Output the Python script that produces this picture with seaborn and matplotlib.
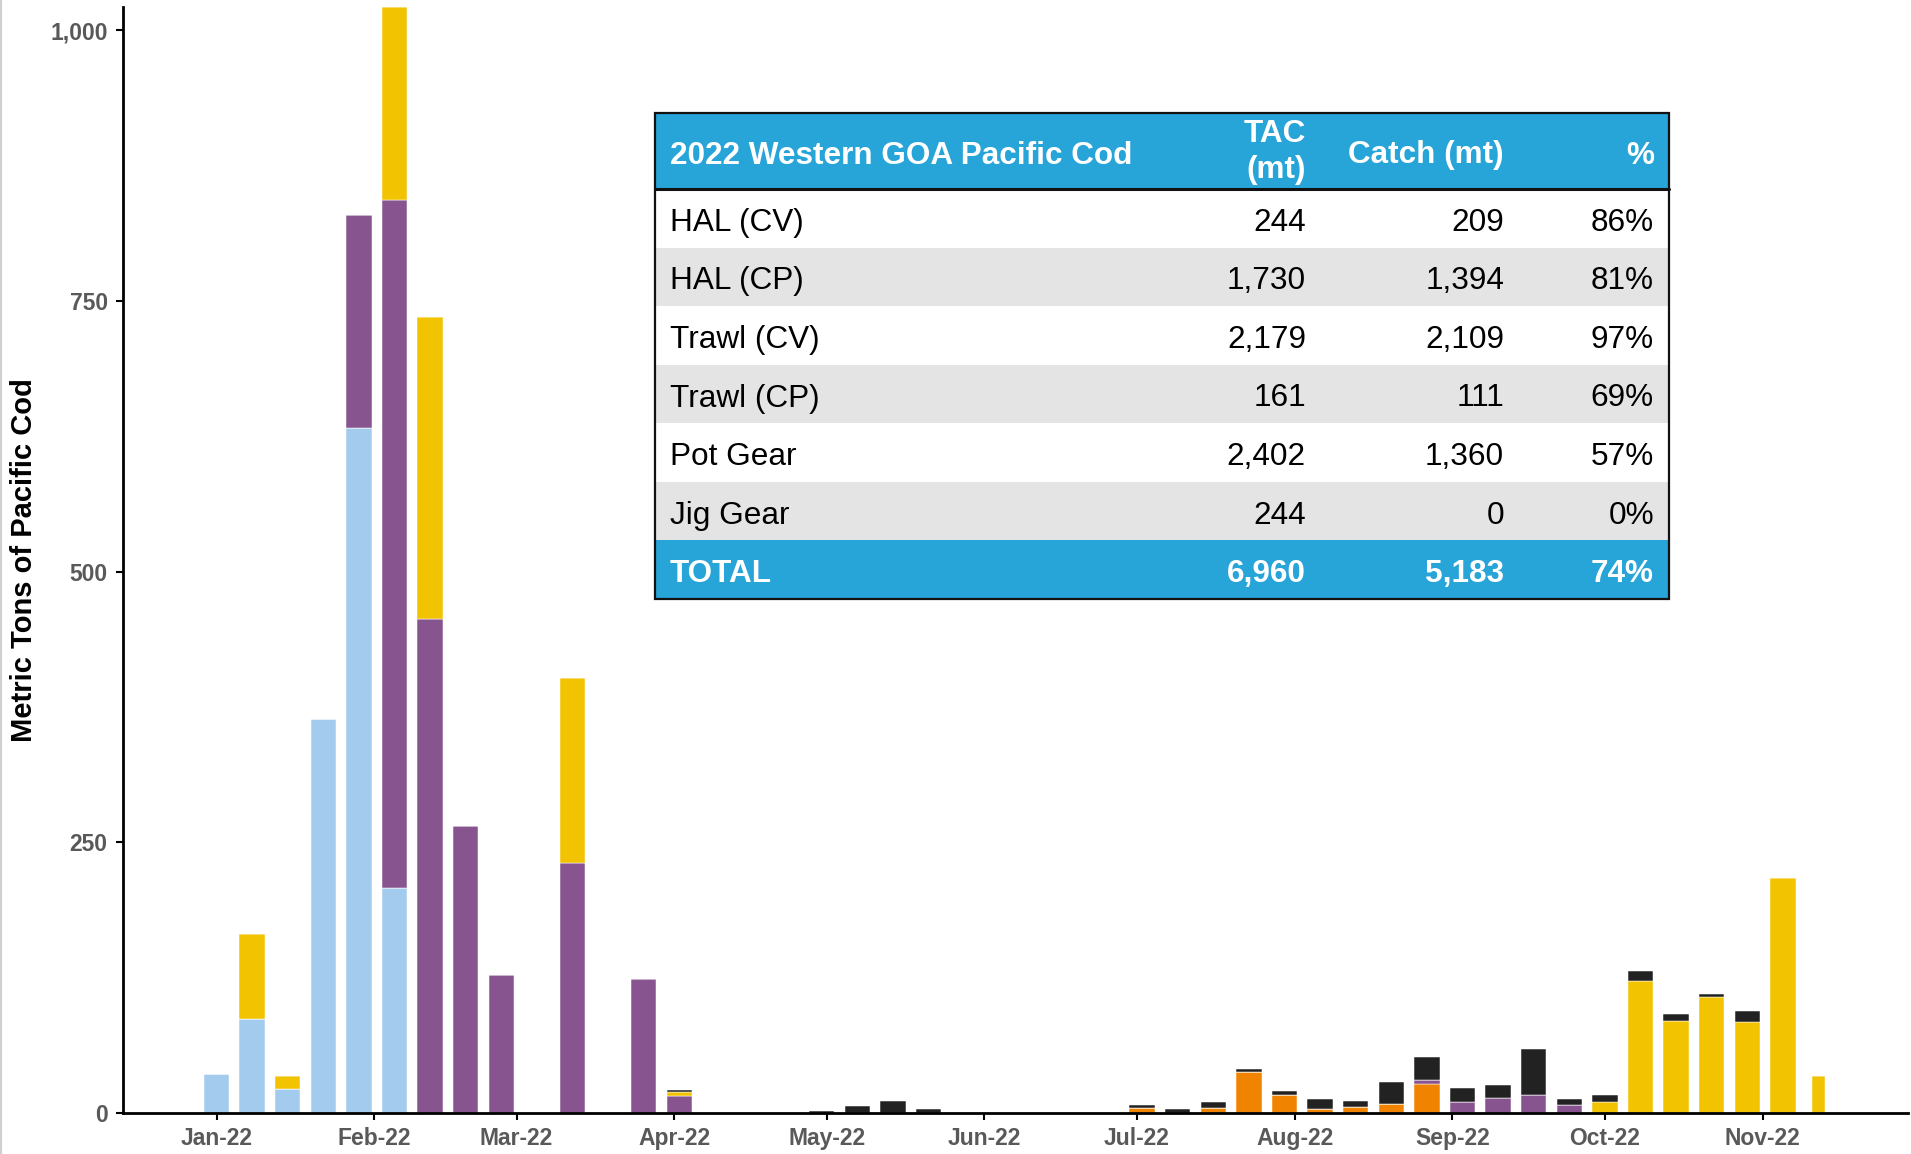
import pandas as pd
import numpy as np
import matplotlib.pyplot as plt
import matplotlib.dates as mdates
from matplotlib.patches import Rectangle
from matplotlib.lines import Line2D
from matplotlib.ticker import StrMethodFormatter
import seaborn as sns

# weekly catch (week ending Saturday), keyed by week number from 2022-01-01
weeks = pd.date_range('2022-01-01', periods=46, freq='7D')

hal_cp = {0: 36, 1: 87, 2: 22, 3: 364, 4: 633, 5: 208}
trawl_cp = {26: 5, 28: 5, 29: 37.5, 30: 17, 31: 3.5, 32: 6, 33: 8, 34: 27}
trawl_cv = {4: 196, 5: 635, 6: 456, 7: 265, 8: 127, 10: 231, 12: 124, 13: 16,
            34: 3.5, 35: 10, 36: 14, 37: 17, 38: 7}
pot_gear = {1: 78, 2: 12, 5: 179, 6: 279, 10: 171, 13: 3.5, 39: 10, 40: 122,
            41: 85, 42: 107, 43: 84, 44: 217, 45: 34}
hal_cv = {13: 1.5, 17: 2, 18: 6.5, 19: 11, 20: 3.5, 26: 2.5, 27: 3.5, 28: 5,
          29: 3.5, 30: 3, 31: 9, 32: 5.5, 33: 21, 34: 21, 35: 13, 36: 11.5,
          37: 42, 38: 6, 39: 7, 40: 9, 41: 6, 42: 3, 43: 10}

# table
table_title = '2022 Western GOA Pacific Cod'
table_cols = ['TAC\n(mt)', 'Catch (mt)', '%']
table_rows = ['HAL (CV)', 'HAL (CP)', 'Trawl (CV)', 'Trawl (CP)', 'Pot Gear', 'Jig Gear']
tac = ['244', '1,730', '2,179', '161', '2,402', '244']
catch = ['209', '1,394', '2,109', '111', '1,360', '0']
pct = ['86%', '81%', '97%', '69%', '57%', '0%']
total = ['TOTAL', '6,960', '5,183', '74%']

series = {'HAL (CV)': hal_cv, 'Pot Gear': pot_gear, 'Trawl (CV)': trawl_cv,
          'Trawl (CP)': trawl_cp, 'HAL (CP)': hal_cp}
colors = {'HAL (CV)': '#222222', 'Pot Gear': '#F2C300', 'Trawl (CV)': '#87548F',
          'Trawl (CP)': '#F08300', 'HAL (CP)': '#A3CBEE'}

centers = mdates.date2num(weeks)
rows = []
for name, vals in series.items():
    for k, v in vals.items():
        rows.append({'week': centers[k], 'sector': name, 'mt': v})
df = pd.DataFrame(rows)

# weekly bins, last (partial) week narrower
edges = list(centers[:45] - 3.5) + [centers[44] + 3.5, centers[45] - 1.75, centers[45] + 1.75]

sns.set_theme(style='white')
plt.rcParams['font.family'] = ['Liberation Sans', 'DejaVu Sans']

W, H = 1911, 1154
fig = plt.figure(figsize=(W / 100, H / 100), dpi=100)
ax = fig.add_axes([123 / W, 1 - 1113 / H, 1785 / W, (1113 - 6.5) / H])

sns.histplot(df, x='week', weights='mt', hue='sector', hue_order=list(series.keys()),
             palette=colors, multiple='stack', bins=edges, shrink=5 / 7, alpha=1,
             edgecolor='white', linewidth=0.35, legend=False, ax=ax)

ax.set_xlim(centers[0] - 18.4, centers[0] + 332.6)
ax.set_ylim(0, 1022)
ax.set_yticks([0, 250, 500, 750, 1000])
ax.yaxis.set_major_formatter(StrMethodFormatter('{x:,.0f}'))
ax.xaxis.set_major_locator(mdates.MonthLocator())
ax.xaxis.set_major_formatter(mdates.DateFormatter('%b-%y'))
ax.set_xlabel('')
ax.set_ylabel('Metric Tons of Pacific Cod', fontsize=21, fontweight='bold',
              color='black', va='center')
ax.yaxis.set_label_coords(-0.0555, 0.5)
sns.despine(ax=ax)
for s in ['left', 'bottom']:
    ax.spines[s].set_color('black')
    ax.spines[s].set_linewidth(2)
ax.tick_params(axis='both', which='major', length=5, width=1.5, color='black',
               labelsize=16.5, labelcolor='#595959', bottom=True, left=True)
ax.tick_params(axis='y', pad=6)
ax.tick_params(axis='x', pad=5)
for lab in ax.get_xticklabels() + ax.get_yticklabels():
    lab.set_fontweight('bold')

# summary table drawn on the figure
def fx(px):
    return px / W

def fy(py):
    return 1 - py / H

blue = '#27A4D8'
grey = '#E4E4E4'
x0, x1 = 655, 1669
y_head, y_body = 113, 189
row_h = (599 - 189) / 7
col_right = [1306, 1504, 1654]
fs = 22.7
dy = 4.5  # nudge text down to sit like the reference

def rect(px0, py0, px1, py1, color):
    fig.add_artist(Rectangle((fx(px0), fy(py1)), fx(px1) - fx(px0), fy(py0) - fy(py1),
                             transform=fig.transFigure, facecolor=color,
                             edgecolor='none', zorder=3))

rect(x0, y_head, x1, y_body, blue)
for i, name in enumerate(table_rows):
    top = y_body + i * row_h
    rect(x0, top, x1, top + row_h, 'white' if i % 2 == 0 else grey)
    yc = fy(top + row_h / 2 + dy)
    fig.text(fx(670), yc, name, ha='left', va='center', fontsize=fs, color='black', zorder=4)
    for xr, val in zip(col_right, [tac[i], catch[i], pct[i]]):
        fig.text(fx(xr), yc, val, ha='right', va='center', fontsize=fs, color='black', zorder=4)
top = y_body + 6 * row_h
rect(x0, top, x1, 599, blue)
yc = fy(top + row_h / 2 + dy)
fig.text(fx(670), yc, total[0], ha='left', va='center', fontsize=fs,
         fontweight='bold', color='white', zorder=4)
for xr, val in zip(col_right, total[1:]):
    fig.text(fx(xr), yc, val, ha='right', va='center', fontsize=fs,
             fontweight='bold', color='white', zorder=4)

hc = fy((y_head + y_body) / 2 + dy)
fig.text(fx(670), hc, table_title, ha='left', va='center', fontsize=fs,
         fontweight='bold', color='white', zorder=4)
fig.text(fx(col_right[0]), fy((y_head + y_body) / 2 + 1), table_cols[0], ha='right',
         va='center', fontsize=fs, fontweight='bold', color='white', linespacing=1.3,
         multialignment='right', zorder=4)
for xr, val in zip(col_right[1:], table_cols[1:]):
    fig.text(fx(xr), hc, val, ha='right', va='center', fontsize=fs, fontweight='bold',
             color='white', zorder=4)

fig.add_artist(Rectangle((fx(x0), fy(599)), fx(x1) - fx(x0), fy(y_head) - fy(599),
                         transform=fig.transFigure, facecolor='none',
                         edgecolor='#111111', linewidth=1.6, zorder=5))
fig.add_artist(Line2D([fx(x0), fx(x1)], [fy(y_body), fy(y_body)], transform=fig.transFigure,
                      color='#111111', linewidth=2.2, zorder=5))

# faint frame line at the left edge
fig.add_artist(Line2D([0.0006, 0.0006], [0, 1], transform=fig.transFigure,
                      color='#d0d0d0', linewidth=1.5))

fig.savefig('out.png', dpi=100)
